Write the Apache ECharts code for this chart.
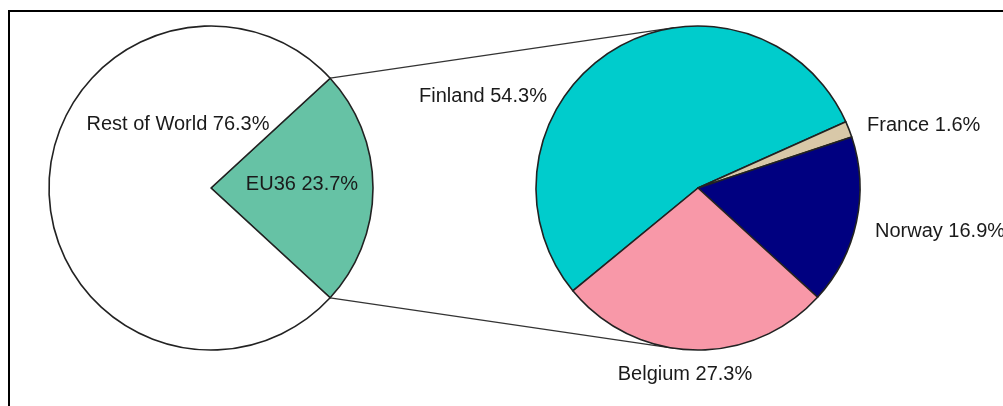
<!DOCTYPE html>
<html>
<head>
<meta charset="utf-8">
<script src="https://cdn.jsdelivr.net/npm/echarts@6/dist/echarts.min.js"></script>
<style>
  html, body { margin: 0; padding: 0; background: #fff; }
  #chart { width: 1003px; height: 406px; }
</style>
</head>
<body>
<div id="chart"></div>
<script>
// world split
const worldNames = ["EU36", "Rest of World"];
const worldValues = [23.7, 76.3];
const worldColors = ["#66c2a5", "#ffffff"];

// EU36 breakdown
const euNames = ["Finland", "France", "Norway", "Belgium"];
const euValues = [54.3, 1.6, 16.9, 27.3];
const euColors = ["#00cccc", "#d8c8a8", "#000080", "#f898a8"];

const leftCenter = [211, 188];
const rightCenter = [698, 188];
const radius = 162;

// label anchors (layout only)
const worldLabelPos = [
  { x: 302, y: 184, align: "center" },
  { x: 178, y: 124, align: "center" }
];
const euLabelPos = [
  { x: 483, y: 96, align: "center" },
  { x: 867, y: 125, align: "left" },
  { x: 875, y: 231, align: "left" },
  { x: 685, y: 374, align: "center" }
];

const euShareAngle = worldValues[0] / (worldValues[0] + worldValues[1]) * 360;
const leftStart = euShareAngle / 2;

// Finland/Belgium boundary sits lower-left
const rightStart = 219.4;

function toData(names, values, colors) {
  return names.map(function(n, i) {
    return { name: n, value: values[i], itemStyle: { color: colors[i] } };
  });
}

// connector lines: wedge edge -> tangent on right pie
function pointOn(c, r, deg) {
  let a = deg * Math.PI / 180;
  return [c[0] + r * Math.cos(a), c[1] - r * Math.sin(a)];
}
function tangentPoint(p, c, r, upper) {
  let dx = p[0] - c[0], dy = -(p[1] - c[1]);
  let d = Math.sqrt(dx * dx + dy * dy);
  let base = Math.atan2(dy, dx) * 180 / Math.PI;
  let off = Math.acos(r / d) * 180 / Math.PI;
  return pointOn(c, r, upper ? base - off : base + off);
}
const topStart = pointOn(leftCenter, radius, leftStart);
const botStart = pointOn(leftCenter, radius, -leftStart);
const topEnd = tangentPoint(topStart, rightCenter, radius, true);
const botEnd = tangentPoint(botStart, rightCenter, radius, false);

function labelFn(posList) {
  return function(params) {
    let p = posList[params.dataIndex];
    return { x: p.x, y: p.y, align: p.align, verticalAlign: "middle" };
  };
}

const labelStyle = {
  show: true,
  color: "#1a1a1a",
  fontFamily: "Liberation Sans, Arial, sans-serif",
  fontSize: 20,
  formatter: function(p) {
    return p.name + " " + p.value + "%";
  }
};

var myChart = echarts.init(document.getElementById("chart"), null, { renderer: "canvas" });

let option = {
  animation: false,
  backgroundColor: "#fff",
  graphic: [
    {
      type: "rect",
      shape: { x: 9, y: 11, width: 1200, height: 600 },
      style: { fill: "none", stroke: "#000", lineWidth: 2 },
      silent: true
    },
    {
      type: "line",
      shape: { x1: topStart[0], y1: topStart[1], x2: topEnd[0], y2: topEnd[1] },
      style: { stroke: "#333", lineWidth: 1.3 },
      silent: true
    },
    {
      type: "line",
      shape: { x1: botStart[0], y1: botStart[1], x2: botEnd[0], y2: botEnd[1] },
      style: { stroke: "#333", lineWidth: 1.3 },
      silent: true
    }
  ],
  series: [
    {
      type: "pie",
      center: leftCenter,
      radius: radius,
      startAngle: leftStart,
      clockwise: true,
      silent: true,
      avoidLabelOverlap: false,
      itemStyle: { borderColor: "#222", borderWidth: 1.6 },
      label: Object.assign({ position: "inside" }, labelStyle),
      labelLine: { show: false },
      labelLayout: labelFn(worldLabelPos),
      emphasis: { disabled: true },
      data: toData(worldNames, worldValues, worldColors)
    },
    {
      type: "pie",
      center: rightCenter,
      radius: radius,
      startAngle: rightStart,
      clockwise: true,
      silent: true,
      avoidLabelOverlap: false,
      itemStyle: { borderColor: "#222", borderWidth: 1.6 },
      label: Object.assign({ position: "outside" }, labelStyle),
      labelLine: { show: false },
      labelLayout: labelFn(euLabelPos),
      emphasis: { disabled: true },
      data: toData(euNames, euValues, euColors)
    }
  ]
};
myChart.setOption(option);
</script>
</body>
</html>
